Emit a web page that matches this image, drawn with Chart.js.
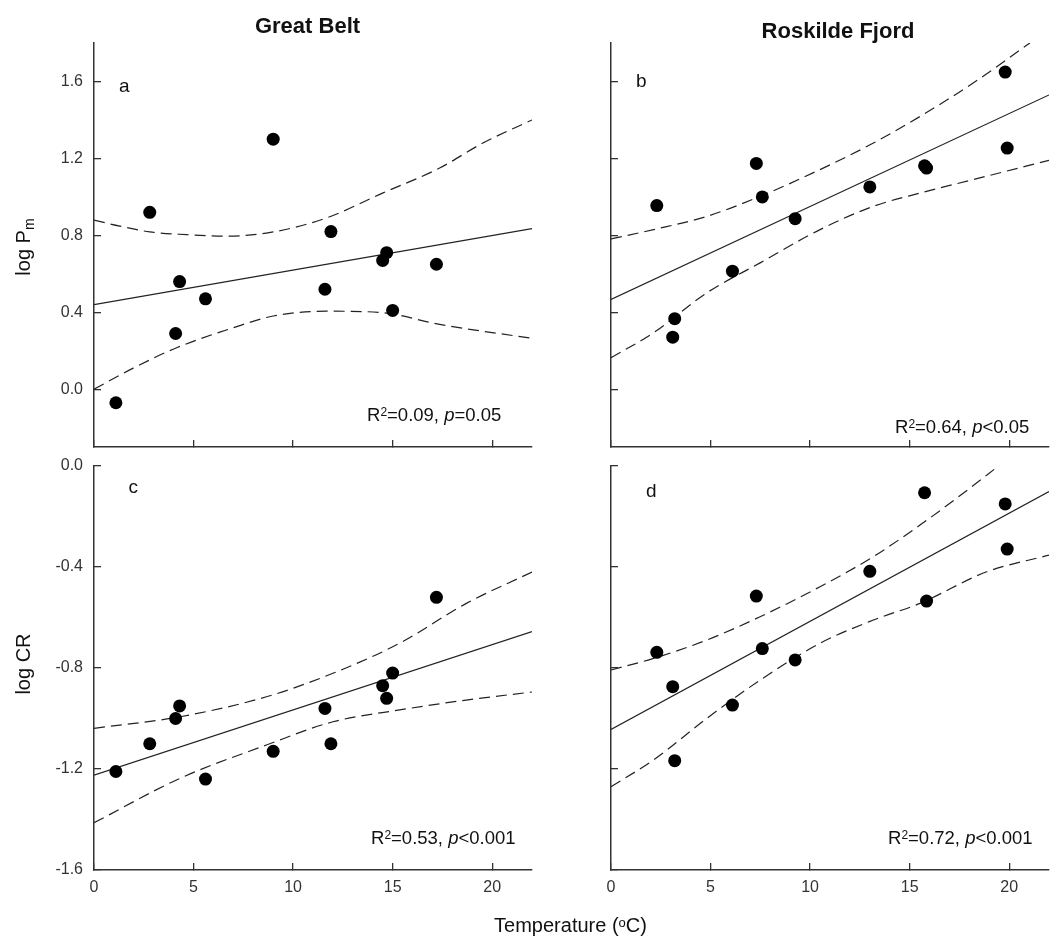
<!DOCTYPE html>
<html><head><meta charset="utf-8">
<script src="https://cdn.jsdelivr.net/npm/chart.js@4.4.1/dist/chart.umd.min.js"></script>
<style>
html,body{margin:0;padding:0;background:#fff;}
#wrap{position:relative;width:1058px;height:936px;overflow:hidden;font-family:"Liberation Sans",Arial,sans-serif;color:#111;}
canvas{position:absolute;left:0;top:0;}
.t{position:absolute;line-height:1;white-space:nowrap;}
.sup{position:relative;top:-0.42em;font-size:0.65em;}
.sub{position:relative;top:0.32em;font-size:0.7em;}
.rot{transform:translate(-50%,-50%) rotate(-90deg);}
.ctr{transform:translateX(-50%);}
</style></head><body>
<div id="wrap">
<canvas id="ca" width="1058" height="936"></canvas>
<canvas id="cb" width="1058" height="936"></canvas>
<canvas id="cc" width="1058" height="936"></canvas>
<canvas id="cd" width="1058" height="936"></canvas>

<div class="t ctr" style="left:307.5px;top:14.7px;font-size:22px;font-weight:bold;">Great Belt</div>
<div class="t ctr" style="left:838px;top:19.7px;font-size:22px;font-weight:bold;">Roskilde Fjord</div>
<div class="t ctr" style="left:570.5px;top:915.4px;font-size:20px;">Temperature (<span class="sup">o</span>C)</div>
<div class="t rot" style="left:22.6px;top:246.5px;font-size:20px;">log P<span class="sub">m</span></div>
<div class="t rot" style="left:22.6px;top:664px;font-size:20px;">log CR</div>

<div class="t" style="left:119px;top:75.6px;font-size:19px;">a</div>
<div class="t" style="left:636px;top:71.2px;font-size:19px;">b</div>
<div class="t" style="left:128.5px;top:477.2px;font-size:19px;">c</div>
<div class="t" style="left:646px;top:481.2px;font-size:19px;">d</div>

<div class="t" style="left:367px;top:406px;font-size:18.5px;">R<span class="sup">2</span>=0.09, <i>p</i>=0.05</div>
<div class="t" style="left:895px;top:417.6px;font-size:18.5px;">R<span class="sup">2</span>=0.64, <i>p</i>&lt;0.05</div>
<div class="t" style="left:371px;top:829.3px;font-size:18.5px;">R<span class="sup">2</span>=0.53, <i>p</i>&lt;0.001</div>
<div class="t" style="left:888px;top:829.3px;font-size:18.5px;">R<span class="sup">2</span>=0.72, <i>p</i>&lt;0.001</div>
</div>
<script>
// ---- data ----
const gbTemp  = [1.1, 2.8, 4.1, 4.3, 5.6, 9.0, 11.6, 11.9, 14.5, 14.7, 15.0, 17.2];
const gbLogPm = [-0.07, 0.92, 0.29, 0.56, 0.47, 1.30, 0.52, 0.82, 0.67, 0.71, 0.41, 0.65];
const gbLogCR = [-1.21, -1.10, -1.00, -0.95, -1.24, -1.13, -0.96, -1.10, -0.87, -0.92, -0.82, -0.52];

const rfTemp  = [2.3, 3.1, 3.2, 6.1, 7.3, 7.6, 9.25, 13.0, 15.75, 15.85, 19.8, 19.9];
const rfLogPm = [0.955, 0.271, 0.367, 0.614, 1.174, 1.0, 0.887, 1.052, 1.162, 1.150, 1.649, 1.254];
const rfLogCR = [-0.738, -0.874, -1.167, -0.947, -0.515, -0.723, -0.768, -0.417, -0.106, -0.535, -0.150, -0.329];

// regression lines
const fitTemp = [0, 22];
const gbPmFit = [0.44, 0.835];
const rfPmFit = [0.467, 1.53];
const gbCrFit = [-1.224, -0.656];
const rfCrFit = [-1.043, -0.101];

// 95% confidence bands
const gbPmUpperX = [0, 1.3, 2.8, 4.65, 6.66, 9.0, 11.68, 14.52, 17.36, 19.53, 22];
const gbPmUpper  = [0.879, 0.848, 0.818, 0.804, 0.796, 0.818, 0.891, 1.021, 1.150, 1.28, 1.40];
const gbPmLowerX = [0, 1.97, 4.15, 7.0, 9.0, 11.68, 14.52, 17.36, 22];
const gbPmLower  = [0.0, 0.11, 0.216, 0.32, 0.381, 0.406, 0.398, 0.337, 0.265];

const rfPmUpperX = [0, 2.14, 4.82, 7.49, 10.5, 13.18, 15.52, 18.19, 21.04];
const rfPmUpper  = [0.782, 0.830, 0.899, 1.003, 1.142, 1.28, 1.418, 1.592, 1.80];
const rfPmLowerX = [0, 2.14, 4.82, 7.49, 10.5, 13.18, 15.52, 18.19, 22];
const rfPmLower  = [0.164, 0.294, 0.502, 0.657, 0.83, 0.951, 1.02, 1.09, 1.19];

const gbCrBandX  = [0, 4.32, 8.66, 12.0, 15.35, 18.7, 22];
const gbCrUpper  = [-1.039, -0.993, -0.914, -0.821, -0.702, -0.544, -0.42];
const gbCrLower  = [-1.413, -1.237, -1.105, -1.013, -0.966, -0.927, -0.895];

const rfCrUpperX = [0, 2.14, 4.82, 7.49, 10.5, 13.18, 15.52, 17.69, 19.53];
const rfCrUpper  = [-0.808, -0.762, -0.689, -0.597, -0.478, -0.359, -0.234, -0.108, 0.004];
const rfCrLowerX = [0, 2.14, 4.82, 7.49, 10.5, 13.18, 15.52, 18.87, 22];
const rfCrLower  = [-1.270, -1.164, -0.999, -0.848, -0.702, -0.61, -0.544, -0.419, -0.353];

// tick values
const xTicks    = [0, 5, 10, 15, 20];
const yTicksPm  = [0.0, 0.4, 0.8, 1.2, 1.6];
const yTicksCR  = [-1.6, -1.2, -0.8, -0.4, 0.0];

// ---- drawing ----
const xy = (xs, ys) => xs.map((x, i) => ({x: x, y: ys[i]}));
const FONT = {family: '"Liberation Sans", Arial, sans-serif', size: 16};
const AXC = '#333';

function panel(id, d) {
  const W = 1058, H = 936, YW = 60, XH = 40;
  const a = d.area;
  new Chart(document.getElementById(id), {
    type: 'scatter',
    data: {datasets: [
      {data: xy(d.tx, d.ty), showLine: false, pointRadius: 6.5, pointBackgroundColor: '#000', pointBorderWidth: 0, pointBorderColor: '#000'},
      {data: xy(fitTemp, d.fit), showLine: true, borderColor: '#222', borderWidth: 1.2, pointRadius: 0},
      {data: xy(d.ux, d.uy), showLine: true, borderColor: '#222', borderWidth: 1.2, borderDash: [11, 6], pointRadius: 0, cubicInterpolationMode: 'monotone'},
      {data: xy(d.lx, d.ly), showLine: true, borderColor: '#222', borderWidth: 1.2, borderDash: [11, 6], pointRadius: 0, cubicInterpolationMode: 'monotone'}
    ]},
    options: {
      responsive: false, animation: false, events: [],
      plugins: {legend: {display: false}, tooltip: {enabled: false}},
      layout: {padding: {left: a.left - YW, top: a.top, right: W - a.right, bottom: H - a.bottom - XH}},
      scales: {
        x: {
          type: 'linear', min: 0, max: 22,
          afterFit: s => { s.height = XH; },
          afterBuildTicks: s => { s.ticks = xTicks.map(v => ({value: v})); },
          grid: {drawOnChartArea: false, drawTicks: true, tickLength: -7, color: AXC, lineWidth: 1.3},
          border: {display: true, color: AXC, width: 1.5},
          ticks: {padding: 15, font: FONT, color: AXC, autoSkip: false, maxRotation: 0,
                  callback: v => d.showX ? String(v) : ''}
        },
        y: {
          type: 'linear', min: d.ymin, max: d.ymax,
          afterFit: s => { s.width = YW; },
          afterBuildTicks: s => { s.ticks = d.yticks.map(v => ({value: v})); },
          grid: {drawOnChartArea: false, drawTicks: true, tickLength: -7, color: AXC, lineWidth: 1.3},
          border: {display: true, color: AXC, width: 1.5},
          ticks: {padding: 18, font: FONT, color: AXC, autoSkip: false,
                  callback: v => d.showY ? Number(v).toFixed(1) : ''}
        }
      }
    }
  });
}

panel('ca', {area: {left: 94, right: 532, top: 43, bottom: 447}, tx: gbTemp, ty: gbLogPm, fit: gbPmFit,
  ux: gbPmUpperX, uy: gbPmUpper, lx: gbPmLowerX, ly: gbPmLower, ymin: -0.3, ymax: 1.8, yticks: yTicksPm, showX: false, showY: true});
panel('cb', {area: {left: 611, right: 1049, top: 43, bottom: 447}, tx: rfTemp, ty: rfLogPm, fit: rfPmFit,
  ux: rfPmUpperX, uy: rfPmUpper, lx: rfPmLowerX, ly: rfPmLower, ymin: -0.3, ymax: 1.8, yticks: yTicksPm, showX: false, showY: false});
panel('cc', {area: {left: 94, right: 532, top: 466, bottom: 870}, tx: gbTemp, ty: gbLogCR, fit: gbCrFit,
  ux: gbCrBandX, uy: gbCrUpper, lx: gbCrBandX, ly: gbCrLower, ymin: -1.6, ymax: 0.0, yticks: yTicksCR, showX: true, showY: true});
panel('cd', {area: {left: 611, right: 1049, top: 466, bottom: 870}, tx: rfTemp, ty: rfLogCR, fit: rfCrFit,
  ux: rfCrUpperX, uy: rfCrUpper, lx: rfCrLowerX, ly: rfCrLower, ymin: -1.6, ymax: 0.0, yticks: yTicksCR, showX: true, showY: false});
</script>
</body></html>
